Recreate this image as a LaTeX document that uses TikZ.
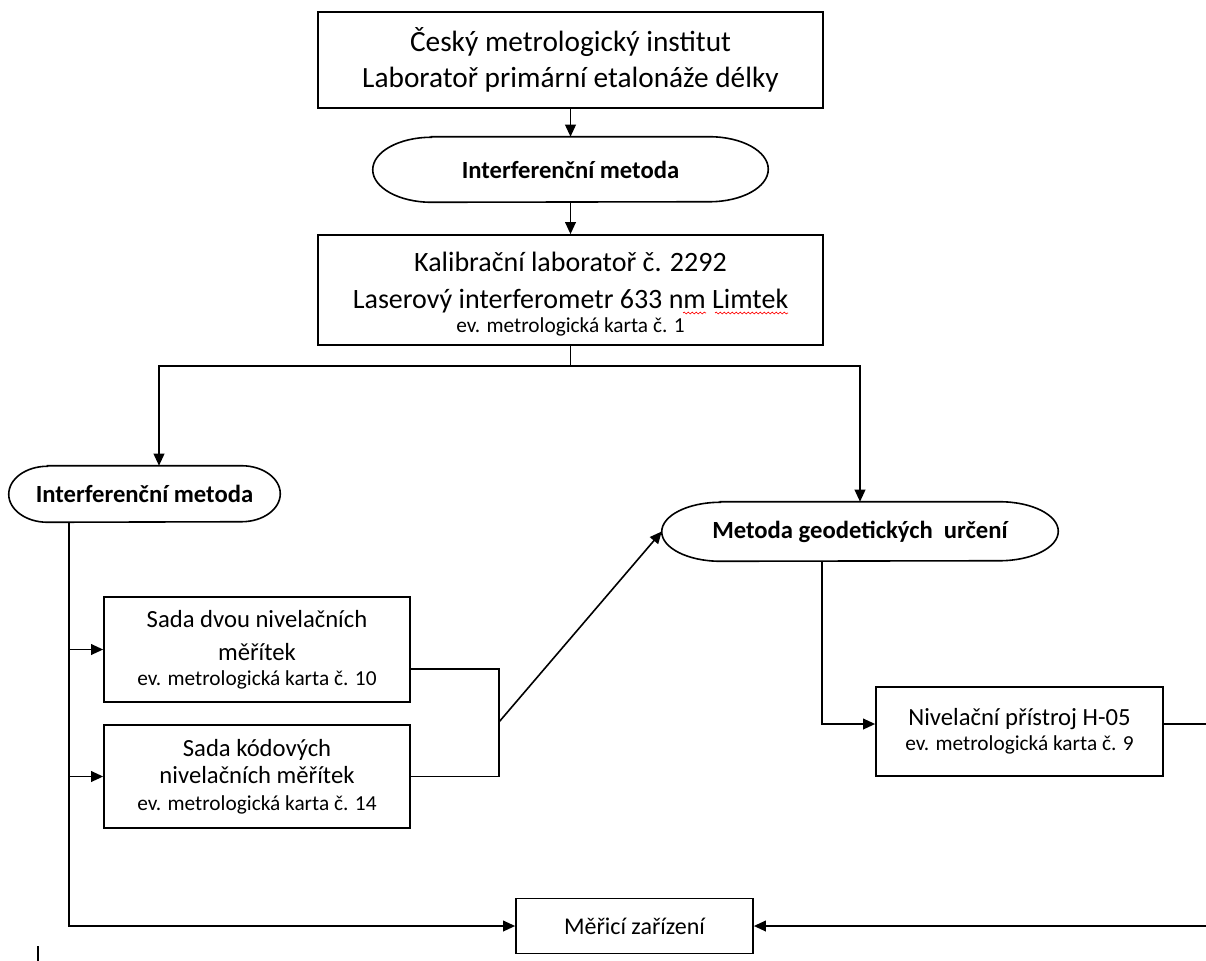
\documentclass[tikz,border=0pt]{standalone}
\usepackage{fontspec}
\setmainfont{Carlito}
\usetikzlibrary{arrows.meta,decorations.pathmorphing}
\newcommand\stadpath[3]{%
  \draw[line width=1.2pt] ([xshift=#2]#1.north west) -- ([xshift=-#2]#1.north east)
    arc[start angle=90,end angle=-90,x radius=#2,y radius=#3]
    -- ([xshift=#2]#1.south west)
    arc[start angle=270,end angle=90,x radius=#2,y radius=#3] -- cycle;}
\begin{document}
\begin{tikzpicture}[x=0.75pt,y=-0.75pt,
  box/.style={draw,line width=1.3pt,align=center,inner sep=0pt},
  stad/.style={align=center,inner sep=0pt,font=\bfseries\fontsize{18.5}{22}\selectfont},
  con/.style={line width=1.2pt},
  arr/.style={con,-{Triangle[length=9pt,width=8pt]}},
  wave/.style={red,line width=0.5pt,decorate,decoration={snake,segment length=3pt,amplitude=0.7pt}}
]
\useasboundingbox (0,0) rectangle (1206,960);

% nodes
\node[box,minimum width=378.75pt,minimum height=72pt,font=\fontsize{22}{27}\selectfont] (top) at (570.5,60)
  {Český metrologický institut\\Laboratoř primární etalonáže délky};
\node[stad,minimum width=296.25pt,minimum height=48.75pt] (ell1) at (570.5,169.5) {Interferenční metoda};
\stadpath{ell1}{44pt}{24.375pt}
\node[box,minimum width=378.75pt,minimum height=82.5pt] (box2) at (570.5,290) {};
\node[align=center,inner sep=0pt,font=\fontsize{21}{26}\selectfont] (box2t) at ([yshift=-3pt]box2.center)
  {Kalibrační laboratoř č. 2292\\[1.5pt]Laserový interferometr 633 nm Limtek\\[-8pt]{\fontsize{16}{19}\selectfont ev. metrologická karta č. 1}};
\node[stad,minimum width=203.25pt,minimum height=42pt] (ell2) at (144.5,494) {Interferenční metoda};
\stadpath{ell2}{29pt}{21pt}
\node[stad,minimum width=297pt,minimum height=44.25pt] (ell3) at (860,531.5) {Metoda geodetických\ \ určení};
\stadpath{ell3}{44pt}{22.125pt}
\node[box,minimum width=229.5pt,minimum height=78.75pt,font=\fontsize{18.5}{25}\selectfont] (sada1) at (257,649.5)
  {Sada dvou nivelačních\\měřítek\\[-6.5pt]{\fontsize{16}{19}\selectfont ev. metrologická karta č. 10}};
\node[box,minimum width=229.5pt,minimum height=77.25pt,font=\fontsize{18.5}{25}\selectfont] (sada2) at (257,776.5)
  {Sada kódových\\[-4.5pt]nivelačních měřítek\\[-5pt]{\fontsize{16}{19}\selectfont ev. metrologická karta č. 14}};
\node[box,minimum width=215.25pt,minimum height=66.75pt,font=\fontsize{18.5}{25}\selectfont] (niv) at (1019.5,731.5)
  {Nivelační přístroj H-05\\[-6pt]{\fontsize{16}{19}\selectfont ev. metrologická karta č. 9}};
\node[box,minimum width=177.75pt,minimum height=41.25pt,font=\fontsize{18}{21}\selectfont] (mer) at (634.5,926)
  {Měřicí zařízení};

% spell-check marks
\draw[wave] (683,313) -- (706,313);
\draw[wave] (715,313) -- (788,313);

% coordinates
\coordinate (j) at (570.5,366);
\coordinate (jl) at (159,366);
\coordinate (sp) at (69,0);
\coordinate (mt) at (499,669);
\coordinate (mj) at (499,722);
\coordinate (nv) at (822,724);
\coordinate (rr) at (1214,724);
\coordinate (cur1) at (38,946);
\coordinate (cur2) at (38,962);

% connectors
\draw[arr] (top) -- (ell1);
\draw[arr] (ell1) -- (box2);
\draw[con] (box2.south) -- (j);
\draw[arr] (j) -| (jl |- ell2.north);
\draw[arr] (j) -| (ell3.north);
\draw[arr] (sp |- ell2.south) |- (mer.west);
\draw[arr] (sp |- sada1.west) -- (sada1.west);
\draw[arr] (sp |- sada2.west) -- (sada2.west);
\draw[con] (mt -| sada1.east) -- (mt) -- (mt |- sada2.east) -- (sada2.east);
\draw[arr] (mj) -- (ell3.west);
\draw[arr] (nv |- ell3.south) -- (nv) -- (nv -| niv.west);
\draw[arr] (nv -| niv.east) -- (rr) |- (mer.east);
\draw[line width=1.8pt] (cur1) -- (cur2);
\end{tikzpicture}
\end{document}
